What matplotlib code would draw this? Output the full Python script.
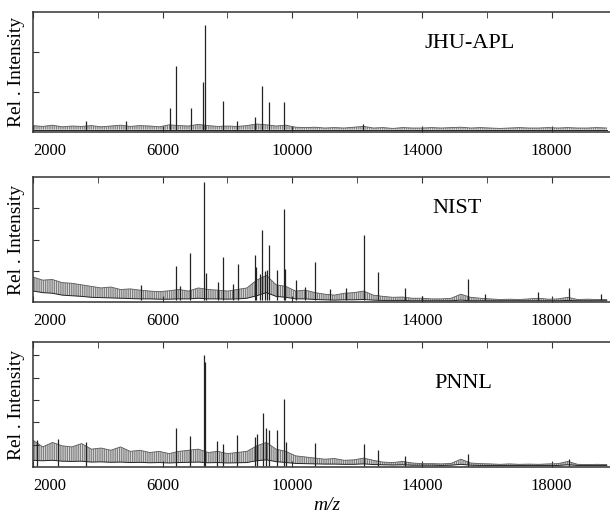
import matplotlib
matplotlib.use("Agg")
import matplotlib.pyplot as plt
from matplotlib.ticker import MultipleLocator, FixedLocator, NullFormatter
import numpy as np

plt.rcParams['font.family'] = ['Liberation Serif', 'DejaVu Serif']
plt.rcParams['hatch.linewidth'] = 0.6

# panel names and y-range (arbitrary intensity units)
names = ['JHU-APL', 'NIST', 'PNNL']
y_tops = [3.0, 4.0, 5.6]
y_ticks = [[1, 2], [1, 2, 3], [1, 2, 3, 4, 5]]
name_pos = [(0.757, 0.74), (0.735, 0.75), (0.745, 0.67)]

# m/z grid for the noise envelope
noise_mz = np.arange(2000, 19800, 300)

jhu_hi = [0.16, 0.14, 0.17, 0.13, 0.15, 0.14, 0.16, 0.13, 0.15, 0.17,
          0.14, 0.16, 0.15, 0.13, 0.18, 0.16, 0.15, 0.19, 0.16, 0.14,
          0.15, 0.14, 0.16, 0.20, 0.18, 0.15, 0.17, 0.12, 0.11, 0.12,
          0.10, 0.11, 0.10, 0.12, 0.14, 0.10, 0.11, 0.09, 0.11, 0.10,
          0.10, 0.11, 0.10, 0.11, 0.12, 0.10, 0.11, 0.10, 0.09, 0.10,
          0.11, 0.10, 0.10, 0.11, 0.10, 0.11, 0.10, 0.10, 0.11, 0.10]
jhu_lo = [0.06] * 60

nist_hi = [0.80, 0.70, 0.72, 0.62, 0.60, 0.55, 0.50, 0.45, 0.48, 0.40,
           0.42, 0.38, 0.35, 0.33, 0.36, 0.40, 0.35, 0.45, 0.40, 0.38,
           0.35, 0.40, 0.45, 0.70, 0.85, 0.55, 0.50, 0.35, 0.38, 0.30,
           0.25, 0.22, 0.28, 0.30, 0.35, 0.22, 0.18, 0.15, 0.16, 0.12,
           0.12, 0.10, 0.10, 0.12, 0.25, 0.15, 0.12, 0.10, 0.08, 0.09,
           0.08, 0.10, 0.12, 0.09, 0.10, 0.15, 0.08, 0.09, 0.08, 0.08]
nist_lo = [0.35, 0.30, 0.28, 0.22, 0.20, 0.18, 0.15, 0.14, 0.13, 0.12,
           0.11, 0.10, 0.10, 0.09, 0.09, 0.10, 0.10, 0.12, 0.10, 0.10,
           0.09, 0.10, 0.12, 0.20, 0.30, 0.18, 0.15, 0.10, 0.10, 0.08,
           0.07, 0.06, 0.07, 0.07, 0.08, 0.06, 0.05, 0.05, 0.05, 0.04,
           0.04, 0.04, 0.04, 0.04, 0.06, 0.04, 0.04, 0.04, 0.04, 0.04,
           0.04, 0.04, 0.04, 0.04, 0.04, 0.05, 0.04, 0.04, 0.04, 0.04]

pnnl_hi = [1.20, 0.90, 1.10, 0.95, 0.90, 1.05, 0.80, 0.85, 0.75, 0.90,
           0.70, 0.75, 0.65, 0.70, 0.60, 0.70, 0.75, 0.80, 0.65, 0.70,
           0.60, 0.65, 0.70, 0.95, 1.10, 0.80, 0.70, 0.50, 0.45, 0.40,
           0.35, 0.38, 0.30, 0.32, 0.40, 0.30, 0.22, 0.20, 0.25, 0.18,
           0.15, 0.15, 0.14, 0.16, 0.35, 0.18, 0.15, 0.14, 0.12, 0.14,
           0.12, 0.13, 0.12, 0.14, 0.15, 0.25, 0.12, 0.11, 0.12, 0.11]
pnnl_lo = [0.30, 0.28, 0.30, 0.26, 0.25, 0.26, 0.22, 0.23, 0.21, 0.22,
           0.20, 0.21, 0.19, 0.20, 0.18, 0.20, 0.21, 0.22, 0.19, 0.20,
           0.18, 0.19, 0.20, 0.28, 0.32, 0.24, 0.20, 0.16, 0.15, 0.14,
           0.13, 0.13, 0.12, 0.12, 0.14, 0.11, 0.10, 0.09, 0.10, 0.08,
           0.08, 0.08, 0.07, 0.08, 0.12, 0.08, 0.07, 0.07, 0.07, 0.07,
           0.07, 0.07, 0.07, 0.07, 0.07, 0.10, 0.07, 0.07, 0.07, 0.07]

# peak positions (m/z) and heights
jhu_mz = [3640, 4870, 6230, 6410, 6870, 7250, 7300, 7870, 8300, 8850,
          9070, 9270, 9750, 12190]
jhu_h = [0.28, 0.27, 0.60, 1.65, 0.60, 1.25, 2.67, 0.78, 0.28, 0.38,
         1.15, 0.74, 0.74, 0.20]

nist_mz = [5330, 6410, 6550, 6840, 7270, 7330, 7700, 7870, 8160, 8320,
           8840, 8880, 9000, 9070, 9150, 9210, 9270, 9520, 9750, 9780,
           10110, 10380, 10700, 11150, 11670, 12200, 12630, 13470, 14010,
           15430, 15930, 17590, 18550, 19530]
nist_h = [0.53, 1.14, 0.50, 1.57, 3.84, 0.93, 0.64, 1.44, 0.57, 1.23,
          1.49, 1.12, 0.90, 2.29, 1.00, 1.03, 1.81, 1.01, 2.97, 1.07,
          0.69, 0.48, 1.27, 0.43, 0.46, 2.15, 0.96, 0.46, 0.18,
          0.75, 0.27, 0.32, 0.46, 0.27]

pnnl_mz = [2120, 2780, 3640, 6410, 6830, 7270, 7310, 7680, 7870, 8300,
           8850, 8910, 9090, 9200, 9270, 9520, 9750, 9790, 10700, 12200,
           12630, 13470, 15430, 18550]
pnnl_h = [1.22, 1.27, 1.10, 1.76, 1.37, 5.04, 4.70, 1.15, 1.04, 1.45,
          1.34, 1.46, 2.42, 1.76, 1.64, 1.64, 3.06, 1.12, 1.07, 1.01,
          0.75, 0.48, 0.60, 0.37]

bands = [(jhu_lo, jhu_hi), (nist_lo, nist_hi), (pnnl_lo, pnnl_hi)]
peaks = [(jhu_mz, jhu_h), (nist_mz, nist_h), (pnnl_mz, pnnl_h)]

fig = plt.figure(figsize=(6.1, 5.16), dpi=100)
left = 33 / 610
width = 1 - left
boxes = [(12, 132), (177, 302), (342, 467)]

for i in range(3):
    top_px, bot_px = boxes[i]
    ax = fig.add_axes([left, 1 - bot_px / 516, width, (bot_px - top_px) / 516])
    lo, hi = bands[i]
    # dense noise: hatched band between lower and upper noise level
    ax.fill_between(noise_mz, lo, hi, facecolor='#d8d8d8', edgecolor='#6e6e6e',
                    hatch='|||||||||', lw=0)
    ax.plot(noise_mz, hi, color='#5a5a5a', lw=0.6)
    ax.plot(noise_mz, lo, color='#222222', lw=0.7)
    mz, h = peaks[i]
    ax.vlines(mz, 0.05, h, color='#222222', lw=0.9)

    ax.set_xlim(2000, 19800)
    ax.set_ylim(0, y_tops[i])
    ax.xaxis.set_major_locator(FixedLocator([2000, 6000, 10000, 14000, 18000]))
    ax.xaxis.set_minor_locator(MultipleLocator(2000))
    ax.yaxis.set_major_locator(FixedLocator(y_ticks[i]))
    ax.yaxis.set_major_formatter(NullFormatter())
    ax.tick_params(axis='x', which='major', direction='in', top=True,
                   length=4, labelsize=12, pad=8, color='#333333')
    ax.tick_params(axis='x', which='minor', direction='in', top=True,
                   bottom=False, length=4, color='#333333')
    ax.tick_params(axis='y', direction='in', length=4, color='#333333')
    ax.get_xticklabels()[0].set_ha('left')
    ax.spines['right'].set_visible(False)
    for s in ['top', 'left', 'bottom']:
        ax.spines[s].set_linewidth(1.1)
        ax.spines[s].set_color('#333333')
    ax.text(name_pos[i][0], name_pos[i][1], names[i], transform=ax.transAxes,
            fontsize=16, ha='center', va='center')
    ax.set_ylabel('Rel . Intensity', fontsize=14, labelpad=2)

fig.text(327 / 610, 1 - 505 / 516, 'm/z', fontsize=14, style='italic',
         ha='center', va='center')

fig.savefig('out.png', dpi=100)
